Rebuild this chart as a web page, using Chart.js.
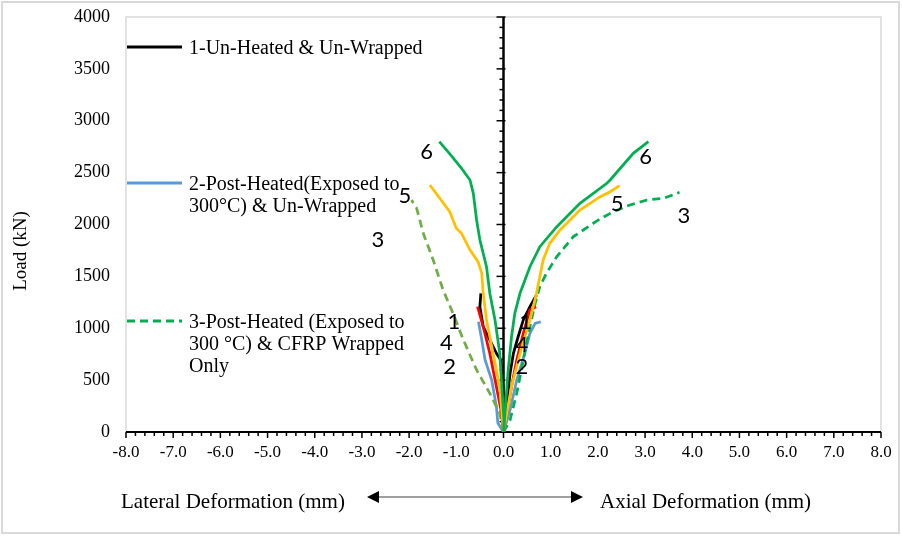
<!DOCTYPE html>
<html>
<head>
<meta charset="utf-8">
<script src="https://cdn.jsdelivr.net/npm/chart.js@4.4.0/dist/chart.umd.min.js"></script>
<style>
  html, body { margin: 0; padding: 0; background: #fff; }
  #wrap { width: 902px; height: 536px; }
</style>
</head>
<body>
<div id="wrap"><canvas id="loadChart" width="902" height="536"></canvas></div>
<script>
// [deformation (mm), load (kN)] - lateral side is negative
const lat1 = [[0,0],[-0.01,437],[-0.06,694],[-0.15,758],[-0.29,887],[-0.43,1015],[-0.50,1208],[-0.48,1337]];
const axi1 = [[0,0],[0.14,566],[0.21,758],[0.31,918],[0.42,1080],[0.56,1208],[0.70,1320]];
const lat2 = [[0,0],[-0.12,87],[-0.15,244],[-0.25,501],[-0.39,694],[-0.46,887],[-0.53,1063]];
const axi2 = [[0,0],[0.14,212],[0.28,501],[0.45,758],[0.56,951],[0.67,1047],[0.79,1063]];
const lat3 = [[0,0],[-0.08,180],[-0.29,373],[-0.57,598],[-0.85,887],[-1.07,1144],[-1.28,1369],[-1.49,1658],[-1.70,1915],[-1.84,2156],[-1.95,2236]];
const axi3 = [[0,0],[0.14,116],[0.28,373],[0.42,694],[0.56,1015],[0.67,1240],[0.77,1401],[0.91,1530],[1.13,1690],[1.48,1883],[1.98,2035],[2.33,2124],[2.68,2188],[3.04,2236],[3.39,2252],[3.73,2310]];
const lat4 = [[0,0],[-0.04,180],[-0.15,437],[-0.29,758],[-0.43,1015],[-0.55,1208]];
const axi4 = [[0,0],[0.17,437],[0.28,694],[0.42,951],[0.56,1176],[0.69,1208]];
const lat5 = [[0,0],[-0.08,437],[-0.22,758],[-0.36,1080],[-0.43,1337],[-0.46,1530],[-0.54,1642],[-0.71,1754],[-0.89,1915],[-1.00,1963],[-1.14,2124],[-1.56,2381]];
const axi5 = [[0,0],[0.17,437],[0.35,758],[0.56,1080],[0.70,1337],[0.84,1658],[0.98,1819],[1.20,1947],[1.62,2140],[2.05,2268],[2.26,2316],[2.46,2374]];
const lat6 = [[0,0],[0.01,116],[-0.08,761],[-0.18,1080],[-0.29,1337],[-0.36,1593],[-0.50,1851],[-0.57,2043],[-0.64,2300],[-0.71,2429],[-0.89,2542],[-1.12,2670],[-1.36,2798]];
const axi6 = [[0,0],[0.10,598],[0.17,918],[0.24,1144],[0.35,1337],[0.56,1593],[0.77,1786],[1.13,1979],[1.62,2204],[2.19,2397],[2.26,2429],[2.75,2686],[3.07,2798]];

// curve number labels, placed in data coordinates
const curveLabels = [
  ['6', -1.63, 2702], ['6', 3.01, 2648],
  ['5', -2.09, 2275], ['5', 2.41, 2198],
  ['3', -2.66, 1851], ['3', 3.82, 2082],
  ['1', -1.05, 1063], ['1', 0.47, 1063],
  ['4', -1.21, 855], ['4', 0.39, 839],
  ['2', -1.14, 629], ['2', 0.39, 629]
];

const legendItems = [
  { lines: ['1-Un-Heated & Un-Wrapped'], color: '#000000', dash: [], y: 47 },
  { lines: ['2-Post-Heated(Exposed to', '300°C) & Un-Wrapped'], color: '#5B9BD5', dash: [], y: 183 },
  { lines: ['3-Post-Heated (Exposed to', '300 °C) & CFRP Wrapped', 'Only'], color: '#00B050', dash: [8, 5], y: 321 }
];

const serif = '"Liberation Serif", "Times New Roman", serif';

function series(data, color, order, dash) {
  return {
    data: data.map(p => ({ x: p[0], y: p[1] })),
    borderColor: color,
    borderWidth: 2.75,
    borderDash: dash || [],
    showLine: true,
    pointRadius: 0,
    fill: false,
    order: order
  };
}

const decor = {
  id: 'decor',
  beforeDatasetsDraw(chart) {
    const { ctx, chartArea: a, scales: { x, y } } = chart;
    ctx.save();
    // outer frame and plot frame
    ctx.strokeStyle = '#d9d9d9';
    ctx.lineWidth = 2;
    ctx.strokeRect(2, 2, 897, 531);
    ctx.lineWidth = 1.5;
    ctx.beginPath();
    ctx.moveTo(a.left, a.bottom);
    ctx.lineTo(a.left, a.top);
    ctx.lineTo(a.right, a.top);
    ctx.lineTo(a.right, a.bottom);
    ctx.stroke();

    // x axis with minor ticks
    ctx.strokeStyle = '#000';
    ctx.lineWidth = 2;
    ctx.beginPath();
    ctx.moveTo(a.left, a.bottom);
    ctx.lineTo(a.right, a.bottom);
    ctx.stroke();
    ctx.lineWidth = 1.5;
    for (let i = -40; i <= 40; i++) {
      const px = x.getPixelForValue(i / 5);
      const len = i % 5 === 0 ? 6 : 4;
      ctx.beginPath();
      ctx.moveTo(px, a.bottom);
      ctx.lineTo(px, a.bottom + len);
      ctx.stroke();
    }

    // vertical axis through x = 0
    const x0 = x.getPixelForValue(0);
    ctx.lineWidth = 2.5;
    ctx.beginPath();
    ctx.moveTo(x0, a.top);
    ctx.lineTo(x0, a.bottom);
    ctx.stroke();
    ctx.lineWidth = 1.5;
    for (let v = 0; v <= 4000; v += 100) {
      const py = y.getPixelForValue(v);
      const major = v % 500 === 0;
      ctx.beginPath();
      ctx.moveTo(x0 - (major ? 7 : 4), py);
      ctx.lineTo(x0 + (major ? 2 : 0), py);
      ctx.stroke();
    }
    ctx.restore();
  },
  afterDraw(chart) {
    const { ctx, chartArea: a, scales: { x, y } } = chart;
    ctx.save();

    // curve numbers
    ctx.fillStyle = '#000';
    ctx.font = '22px Lato, "Liberation Sans", sans-serif';
    ctx.textAlign = 'center';
    ctx.textBaseline = 'middle';
    curveLabels.forEach(l => ctx.fillText(l[0], x.getPixelForValue(l[1]), y.getPixelForValue(l[2])));

    // legend
    ctx.font = '20px ' + serif;
    ctx.textAlign = 'left';
    ctx.textBaseline = 'alphabetic';
    legendItems.forEach(it => {
      ctx.strokeStyle = it.color;
      ctx.lineWidth = 3;
      ctx.setLineDash(it.dash);
      ctx.beginPath();
      ctx.moveTo(a.left + 1, it.y);
      ctx.lineTo(a.left + 56, it.y);
      ctx.stroke();
      ctx.setLineDash([]);
      it.lines.forEach((t, i) => ctx.fillText(t, 189, it.y + 7 + i * 22));
    });

    // y title
    ctx.save();
    ctx.translate(21, 251);
    ctx.rotate(-Math.PI / 2);
    ctx.textAlign = 'center';
    ctx.textBaseline = 'middle';
    ctx.font = '19px ' + serif;
    ctx.fillText('Load (kN)', 0, 0);
    ctx.restore();

    // bottom titles with double arrow
    ctx.font = '21px ' + serif;
    ctx.textBaseline = 'middle';
    ctx.textAlign = 'left';
    ctx.fillText('Lateral Deformation (mm)', 121, 502);
    ctx.fillText('Axial Deformation (mm)', 600, 502);
    ctx.strokeStyle = '#7f7f7f';
    ctx.lineWidth = 1.5;
    ctx.beginPath();
    ctx.moveTo(376, 497);
    ctx.lineTo(574, 497);
    ctx.stroke();
    ctx.fillStyle = '#000';
    ctx.beginPath();
    ctx.moveTo(367, 497); ctx.lineTo(379, 491); ctx.lineTo(379, 503); ctx.closePath();
    ctx.moveTo(583, 497); ctx.lineTo(571, 491); ctx.lineTo(571, 503); ctx.closePath();
    ctx.fill();
    ctx.restore();
  }
};

const ctx = document.getElementById('loadChart').getContext('2d');

let loadChart = new Chart(ctx, {
  type: 'scatter',
  data: {
    datasets: [
      series(lat1, '#000000', 6), series(axi1, '#000000', 6),
      series(lat2, '#5B9BD5', 5), series(axi2, '#5B9BD5', 5),
      series(lat3, '#70AD47', 4, [8, 5]), series(axi3, '#00B050', 4, [8, 5]),
      series(lat4, '#FF0000', 3), series(axi4, '#FF0000', 3),
      series(lat5, '#FFC000', 2), series(axi5, '#FFC000', 2),
      series(lat6, '#00B050', 1), series(axi6, '#00B050', 1)
    ]
  },
  options: {
    responsive: false,
    animation: false,
    layout: { padding: { top: 17, right: 21, left: 0, bottom: 0 } },
    plugins: {
      legend: { display: false },
      tooltip: { enabled: false }
    },
    scales: {
      x: {
        type: 'linear',
        min: -8, max: 8,
        grid: { display: false, drawTicks: false },
        border: { display: false },
        ticks: {
          stepSize: 1,
          maxRotation: 0,
          autoSkip: false,
          padding: 10,
          color: '#000',
          font: { family: serif, size: 17 },
          callback: v => v.toFixed(1)
        },
        afterFit: s => { s.height = 104; }
      },
      y: {
        min: 0, max: 4000,
        grid: { display: false, drawTicks: false },
        border: { display: false },
        ticks: {
          stepSize: 500,
          padding: 16,
          color: '#000',
          font: { family: serif, size: 18 },
          callback: v => String(v)
        },
        afterFit: s => { s.width = 126; s.paddingTop = 0; s.paddingBottom = 0; }
      }
    }
  },
  plugins: [decor]
});
</script>
</body>
</html>
